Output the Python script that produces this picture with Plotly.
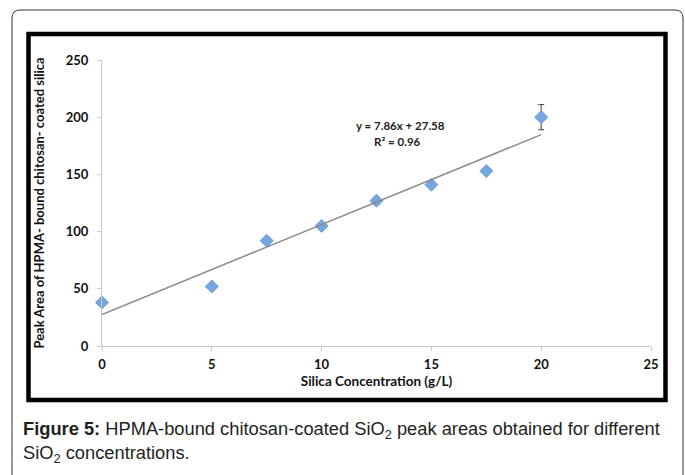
import plotly.graph_objects as go

# ---- data ----
concentration = [0, 5, 7.5, 10, 12.5, 15, 17.5, 20]
peak_area = [38, 52, 92, 105, 127, 141, 153, 200]
error = [0, 0, 0, 2, 3, 0, 0, 11]
slope = 7.86
intercept = 27.58
x_ticks = [0, 5, 10, 15, 20, 25]
y_ticks = [0, 50, 100, 150, 200, 250]
x_title = "Silica Concentration (g/L)"
y_title = "Peak Area of HPMA- bound chitosan- coated silica"
eq_line1 = "y = 7.86x + 27.58"
eq_line2 = "R² = 0.96"
caption1 = "<b>Figure 5:</b> HPMA-bound chitosan-coated SiO<sub>2</sub> peak areas obtained for different"
caption2 = "SiO<sub>2</sub> concentrations."

W, H = 685, 475
L, R, T, B = 102, 651, 60, 346  # plot area in pixels


def px(x):
    return (x - L) / (R - L)


def py(y):
    return (B - y) / (B - T)


trend_x = [0, 20]
trend_y = [slope * v + intercept for v in trend_x]

fig = go.Figure()
fig.add_trace(go.Scatter(
    x=concentration, y=peak_area, mode="markers",
    marker=dict(symbol="diamond", size=10, color="#74a6e0",
                line=dict(color="#5e91d0", width=0.8)),
    error_y=dict(type="data", array=error, visible=True, color="#444444",
                 thickness=1, width=3),
    cliponaxis=False, showlegend=False,
))
fig.add_trace(go.Scatter(
    x=trend_x, y=trend_y, mode="lines",
    line=dict(color="#8a8a8a", width=1.5),
    cliponaxis=False, showlegend=False,
))

tick_font = dict(family="Lato", size=13, color="#111111", weight="bold")
axis_common = dict(
    showgrid=False, zeroline=False, showline=True, linecolor="#c8c8c8",
    linewidth=1, ticks="outside", ticklen=4, tickcolor="#c8c8c8",
    tickfont=tick_font,
)
fig.update_xaxes(range=[0, 25], tickvals=x_ticks, **axis_common,
                 ticklabelstandoff=2,
                 title=dict(text=x_title, standoff=5,
                            font=dict(family="Lato", size=13.5, color="#111111", weight="bold")))
fig.update_yaxes(range=[0, 250], tickvals=y_ticks, **axis_common,
                 ticklabelstandoff=6,
                 title=dict(text=y_title, standoff=18,
                            font=dict(family="Lato", size=13, color="#111111", weight="bold")))

# outer rounded border
x0, x1, y0, y1, r = px(12), px(683), py(10), py(490), 8
rx, ry = r / (R - L), r / (B - T)
path = (f"M {x0} {y1} L {x0} {y0 - ry} Q {x0} {y0} {x0 + rx} {y0} "
        f"L {x1 - rx} {y0} Q {x1} {y0} {x1} {y0 - ry} L {x1} {y1}")
shapes = [
    dict(type="path", xref="paper", yref="paper", path=path,
         line=dict(color="#333333", width=1)),
    dict(type="rect", xref="paper", yref="paper",
         x0=px(28.5), x1=px(665.5), y0=py(34), y1=py(400),
         line=dict(color="black", width=4.5), layer="above"),
]

annotations = [
    dict(text=eq_line1, x=px(400), y=py(126), xref="paper", yref="paper",
         showarrow=False, xanchor="center", yanchor="middle",
         font=dict(family="Lato", size=11.5, color="#222222", weight="bold")),
    dict(text=eq_line2, x=px(397), y=py(141), xref="paper", yref="paper",
         showarrow=False, xanchor="center", yanchor="middle",
         font=dict(family="Lato", size=11.5, color="#222222", weight="bold")),
    dict(text=caption1, x=px(21), y=py(430), xref="paper", yref="paper",
         showarrow=False, xanchor="left", yanchor="middle",
         font=dict(family="Liberation Sans", size=18.3, color="#231f20")),
    dict(text=caption2, x=px(21), y=py(454), xref="paper", yref="paper",
         showarrow=False, xanchor="left", yanchor="middle",
         font=dict(family="Liberation Sans", size=18.3, color="#231f20")),
]

fig.update_layout(
    width=W, height=H, autosize=False,
    margin=dict(l=L, r=W - R, t=T, b=H - B, pad=0),
    paper_bgcolor="white", plot_bgcolor="white",
    shapes=shapes, annotations=annotations, showlegend=False,
)

fig.write_html("out.html")
